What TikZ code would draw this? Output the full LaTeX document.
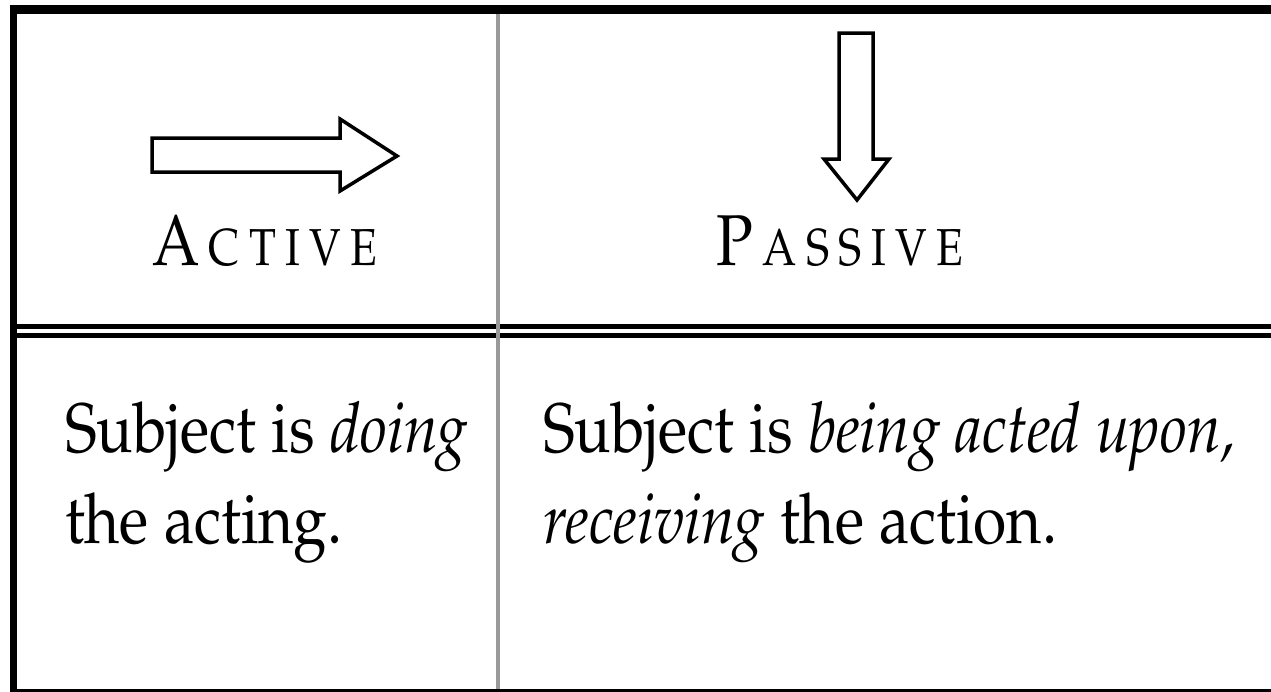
\documentclass[tikz,border=0pt]{standalone}
\usepackage[T1]{fontenc}
\usepackage{mathpazo}
\usepackage{graphicx}
\newcommand\lsp{\kern11pt}
\newcommand\hdrcap[1]{{\fontsize{72}{80}\selectfont #1}}
\newcommand\hdrsmc[1]{{\fontsize{52}{60}\selectfont #1}}
\newcommand\narrowbody[1]{\scalebox{0.865}[1]{#1}}
\newcommand\narrowhead[1]{\scalebox{0.845}[1]{#1}}
\begin{document}
\begin{tikzpicture}[x=1pt,y=-1pt,
  rule/.style={line width=#1, black},
  grayrule/.style={line width=4pt, color=black!40},
  hollow/.style={draw=black, fill=white, line width=3.5pt, line join=miter},
  body/.style={inner sep=0pt, outer sep=0pt, anchor=base west, font=\fontsize{70}{84}\selectfont},
  head/.style={inner sep=0pt, outer sep=0pt}]
\useasboundingbox (0,0) rectangle (1271,691);
% frame
\draw[rule=9pt] (10,9.5) -- (1271,9.5);
\draw[rule=7pt] (13.5,5) -- (13.5,691);
\draw[rule=3pt] (10,690) -- (1271,690);
% double rule under header
\draw[rule=5pt] (17,326.5) -- (1271,326.5);
\draw[rule=5pt] (17,335.5) -- (1271,335.5);
% column separator
\draw[grayrule] (498,14) -- (498,689);
% arrows
\draw[hollow] (152,138) -- (340,138) -- (340,119) -- (397,156) -- (340,191) -- (340,172) -- (152,172) -- cycle;
\draw[hollow] (839,33) -- (873,33) -- (873,159) -- (889,159) -- (857,200) -- (824,159) -- (839,159) -- cycle;
% headers
\node[head, anchor=base west] (active) at (152,265) {\narrowhead{\hdrcap{A}\lsp\hdrsmc{C}\lsp\hdrsmc{T}\lsp\hdrsmc{I}\lsp\hdrsmc{V}\lsp\hdrsmc{E}}};
\node[head, anchor=base east] (passive) at (963,265) {\narrowhead{\hdrcap{P}\lsp\hdrsmc{A}\lsp\hdrsmc{S}\lsp\hdrsmc{S}\lsp\hdrsmc{I}\lsp\hdrsmc{V}\lsp\hdrsmc{E}}};
% body
\node[body] (a1) at (65,452) {\narrowbody{Subject is \textit{doing}}};
\node[body] (a2) at (65,543) {\narrowbody{the acting.}};
\node[body] (p1) at (543,452) {\narrowbody{Subject is \textit{being acted upon,}}};
\node[body] (p2) at (543,543) {\narrowbody{\textit{receiving} the action.}};
\end{tikzpicture}
\end{document}
